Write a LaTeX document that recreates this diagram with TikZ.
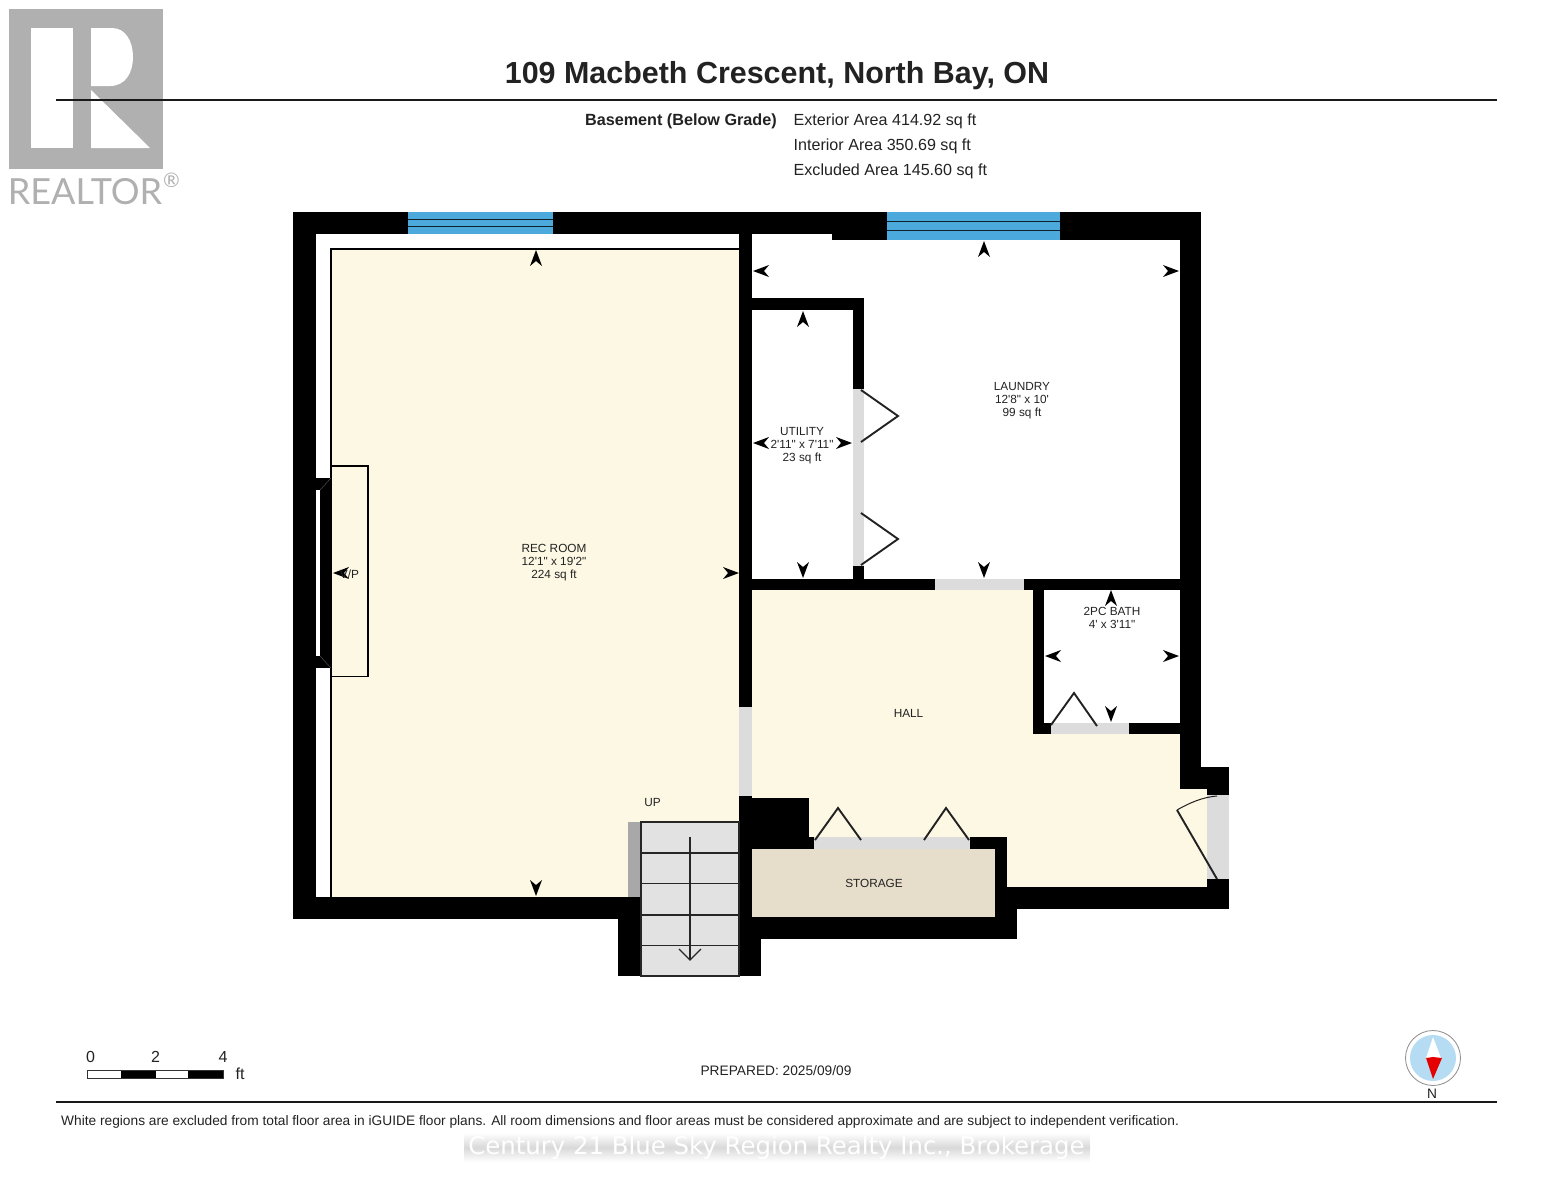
\documentclass[tikz,border=0pt]{standalone}
\usepackage{fontspec}
\newfontfamily\fntar{Liberation Sans}
\newfontfamily\fntdj{DejaVu Sans}
\newfontfamily\fntla{Lato}
\definecolor{floorc}{HTML}{FDF8E4}
\definecolor{storec}{HTML}{E7DDCB}
\definecolor{doorc}{HTML}{DCDCDC}
\definecolor{winc}{HTML}{4BA9DC}
\definecolor{stairc}{HTML}{E2E2E2}
\definecolor{barc}{HTML}{A8A8A8}
\definecolor{logoc}{HTML}{B0B0B0}
\definecolor{txt}{HTML}{222222}
\definecolor{skyc}{HTML}{B5DCF3}
\tikzset{
  wall/.style={fill=black},
  door/.style={fill=doorc},
  swing/.style={draw=txt,line width=1.9pt,line join=miter},
  lbl/.style={font=\fntar\fontsize{11.8}{13}\selectfont,text=txt,align=center,inner sep=0pt},
  info/.style={font=\fntar\fontsize{16.1}{16}\selectfont,text=txt,inner sep=0pt},
  foot/.style={font=\fntar\fontsize{13.73}{14}\selectfont,text=txt,inner sep=0pt},
  scalenum/.style={font=\fntar\fontsize{16}{16}\selectfont,text=txt,inner sep=0pt},
  rule/.style={line width=2.4pt,draw=black!90},
}
\newcommand{\mk}[3]{\fill[shift={(#1,#2)},rotate=#3,fill=black] (0,0) -- (-16,-6) -- (-11,0) -- (-16,6) -- cycle;}
\begin{document}
\begin{tikzpicture}[x=1pt,y=-1pt]
\useasboundingbox (0,0) rectangle (1553,1200);
% logo
\fill[logoc] (9,9) rectangle (163,169);
\fill[white] (30.5,28) rectangle (73,148);
\fill[white] (91,28) -- (112,28) .. controls (126,28) and (133,42) .. (133,57) .. controls (133,72) and (126,86) .. (110,86) -- (91,86) -- cycle;
\fill[white] (91,90) -- (150,148) -- (91,148) -- cycle;
\node[font=\fntla\fontsize{36}{36}\selectfont,text=logoc,inner sep=0pt] (realtor) at (85,191.5) {REALTOR};
\node[font=\fntla\fontsize{20}{20}\selectfont,text=logoc,inner sep=0pt] (regmark) at (171.5,180) {®};
% rules
\coordinate (ruleAl) at (56,100); \coordinate (ruleAr) at (1497,100);
\draw[rule] (ruleAl) -- (ruleAr);
\coordinate (ruleBl) at (56,1102); \coordinate (ruleBr) at (1497,1102);
\draw[rule] (ruleBl) -- (ruleBr);
% header
\node[font=\fntar\bfseries\fontsize{30.45}{30}\selectfont,text=txt,inner sep=0pt] (title) at (777,75.5) {109 Macbeth Crescent, North Bay, ON};
\node[info,font=\fntar\bfseries\fontsize{16.2}{16}\selectfont,anchor=east] (lvl) at (777,121) {Basement (Below Grade)};
\node[info,anchor=west] (ext) at (793.5,121) {Exterior Area 414.92 sq ft};
\node[info,anchor=west] (int) at (793.5,146) {Interior Area 350.69 sq ft};
\node[info,anchor=west] (exc) at (793.5,171) {Excluded Area 145.60 sq ft};
% floors
\fill[floorc] (331,249) rectangle (739,897);
\draw[black,line width=1.1pt] (331,897) -- (331,249) -- (739,249);
\fill[floorc] (752,589) -- (1033,589) -- (1033,734) -- (1180,734) -- (1180,789) -- (1207,789) -- (1207,887) -- (1007,887) -- (1007,837) -- (809,837) -- (809,798) -- (752,798) -- cycle;
\fill[storec] (752,849) rectangle (995,917);
% fireplace box
\draw[black,line width=1.1pt] (331,466) -- (368,466) -- (368,676.5) -- (331,676.5);
% walls
\fill[wall] (293,212) rectangle (1201,234);
\fill[wall] (832,234) rectangle (1201,240);
\fill[wall] (293,212) rectangle (316,919);
\fill[wall] (316,478) rectangle (331,668);
\fill[white] (316,490) rectangle (319.5,656);
\draw[black!65,line width=.4pt] (320,490) -- (331,478) (320,656) -- (331,668);
\fill[wall] (293,897) rectangle (641,919);
\fill[wall] (618,897) rectangle (641,976);
\fill[wall] (739,234) rectangle (752,707);
\fill[wall] (739,796) rectangle (752,976);
\fill[wall] (739,939) rectangle (761,976);
\fill[wall] (739,917) rectangle (1017,939);
\fill[wall] (995,837) rectangle (1007,917);
\fill[wall] (995,887) rectangle (1229,909);
\fill[wall] (1007,909) rectangle (1017,939);
\fill[wall] (739,798) rectangle (809,849);
\fill[wall] (809,837) rectangle (814,849);
\fill[wall] (970,837) rectangle (1007,849);
\fill[wall] (1180,212) rectangle (1201,789);
\fill[wall] (1180,767) rectangle (1229,789);
\fill[wall] (1207,767) rectangle (1229,795);
\fill[wall] (1207,879) rectangle (1229,909);
\fill[wall] (752,298) rectangle (864,310);
\fill[wall] (852.5,298) rectangle (864,389);
\fill[wall] (852.5,566) rectangle (864,589);
\fill[wall] (752,578.5) rectangle (1180,589.5);
\fill[wall] (1033,589) rectangle (1044,734);
\fill[wall] (1033,723) rectangle (1180,734);
% windows
\fill[winc] (408,212) rectangle (553,234);
\draw[black!80!winc,line width=.9pt] (408,219.5) -- (553,219.5) (408,226) -- (553,226);
\fill[winc] (887,212) rectangle (1060,240);
\draw[black!80!winc,line width=.9pt] (887,221) -- (1060,221) (887,230) -- (1060,230);
% door openings
\fill[door] (739,707) rectangle (752,796);
\fill[door] (852.5,389) rectangle (864,566);
\fill[door] (935,578.5) rectangle (1024,589.5);
\fill[door] (1050.5,723) rectangle (1129,734);
\fill[door] (814,837) rectangle (970,849);
\fill[door] (1207,795) rectangle (1229,879);
% door swings
\draw[swing] (861,390) -- (898,416) -- (861,442);
\draw[swing] (861,513) -- (898,539) -- (861,565);
\draw[swing] (815,840) -- (838,808) -- (861,840);
\draw[swing] (924,840) -- (946,808) -- (969,840);
\draw[swing] (1051,725) -- (1074,693) -- (1097,726);
\draw[swing] (1217,879) -- (1177,810);
\draw[draw=txt,line width=1pt] (1177,810) .. controls (1189,803) and (1203,797) .. (1217,796);
% stairs
\fill[barc] (628,822) rectangle (641,897);
\fill[stairc] (641,822) rectangle (739,976);
\draw[black!85,line width=1.1pt] (641,822) rectangle (739,976);
\draw[black!85,line width=1.1pt] (641,853) -- (739,853) (641,883.5) -- (739,883.5) (641,915) -- (739,915) (641,945.5) -- (739,945.5);
\coordinate (upA) at (690,837); \coordinate (upB) at (690,960);
\draw[black!85,line width=1.2pt] (upA) -- (upB);
\draw[black!85,line width=1.2pt] (679,949) -- (upB) -- (701,949);
% markers
\mk{536}{250}{90} \mk{536}{896}{-90} \mk{333}{573}{180} \mk{739}{573}{0}
\mk{984}{241}{90} \mk{753}{271}{180} \mk{1179}{271}{0} \mk{984}{578}{-90}
\mk{803}{311}{90} \mk{753}{443}{180} \mk{852}{443}{0} \mk{803}{578}{-90}
\mk{1111}{590}{90} \mk{1045}{656}{180} \mk{1179}{656}{0} \mk{1111}{722}{-90}
% labels
\node[lbl] (recroom) at (554,563) {REC ROOM\\12'1" x 19'2"\\224 sq ft};
\node[lbl] (vp) at (349.5,574) {V/P};
\node[lbl] (laundry) at (1022,401) {LAUNDRY\\12'8" x 10'\\99 sq ft};
\node[lbl] (utility) at (802,446) {UTILITY\\2'11" x 7'11"\\23 sq ft};
\node[lbl] (bath) at (1112,617.5) {2PC BATH\\4' x 3'11"};
\node[lbl] (hall) at (908.5,713) {HALL};
\node[lbl] (storage) at (874,883) {STORAGE};
\node[lbl] (up) at (652.5,802) {UP};
% scale
\fill[white] (87.5,1070) rectangle (121,1078);
\fill[black] (121,1070) rectangle (156,1078);
\fill[white] (156,1070) rectangle (188,1078);
\fill[black] (188,1070) rectangle (223,1078);
\draw[black!80,line width=.6pt] (87.5,1070) rectangle (223,1078);
\node[scalenum] (s0) at (90.5,1057) {0};
\node[scalenum] (s2) at (155.5,1057) {2};
\node[scalenum] (s4) at (223,1057) {4};
\node[scalenum] (sft) at (240,1073.5) {ft};
\node[foot] (prepared) at (776,1070.5) {PREPARED: 2025/09/09};
% compass
\draw[black!45,fill=white,line width=.8pt] (1433,1058) circle (27.5);
\fill[skyc] (1433,1058) circle (23);
\fill[white] (1433,1037) -- (1441,1058) -- (1426,1058) -- cycle;
\fill[red!90!black] (1426,1058) -- (1433,1057) -- (1442,1058) -- (1433,1079) -- cycle;
\node[foot] (north) at (1432,1094) {N};
% footer
\node[foot,anchor=west] (disc) at (61,1122) {White regions are excluded from total floor area in iGUIDE floor plans. All room dimensions and floor areas must be considered approximate and are subject to independent verification.};
\shade[top color=white,bottom color=white,middle color=black!15] (464,1133) rectangle (1090,1162);
\node[font=\fntdj\fontsize{24.4}{25}\selectfont,text=white,inner sep=0pt] (wm) at (776.5,1148) {Century 21 Blue Sky Region Realty Inc., Brokerage};
\end{tikzpicture}
\end{document}
